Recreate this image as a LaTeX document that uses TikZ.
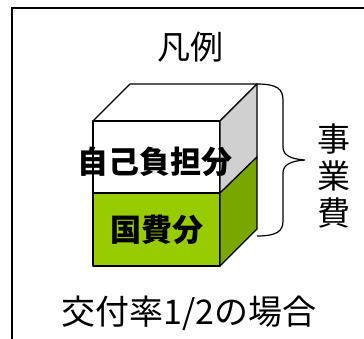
\documentclass[tikz,border=0pt]{standalone}
\usepackage{fontspec}
\newfontfamily\jpfont{Noto Sans CJK JP}
\definecolor{kokuhi}{HTML}{99CC00}
\definecolor{kokuhiside}{HTML}{7AA600}
\definecolor{jikoside}{HTML}{D0D0D0}
\begin{document}
\begin{tikzpicture}[x=1pt,y=-1pt,
    face/.style={draw=black,line width=1.2pt,line join=round},
    plaintext/.style={inner sep=0pt,font=\jpfont\fontsize{33}{37}\selectfont},
    parttext/.style={inner sep=0pt,font=\jpfont\bfseries\fontsize{31}{34}\selectfont}]
    \useasboundingbox (0,0) rectangle (364,338);
    % frame
    \draw[line width=1.8pt] (12,345) -- (12,8) -- (370,8);
    % cube
    \draw[face,fill=white] (93,121) -- (130,84) -- (257,84) -- (220,121) -- cycle;
    \draw[face,fill=white] (93,121) rectangle (220,193);
    \draw[face,fill=kokuhi] (93,193) rectangle (220,266);
    \draw[face,fill=jikoside] (220,121) -- (257,84) -- (257,157) -- (220,193) -- cycle;
    \draw[face,fill=kokuhiside] (220,193) -- (257,157) -- (257,229) -- (220,266) -- cycle;
    % brace
    \draw[line width=1.2pt] (257,84) .. controls (277,84) and (283,89) .. (283,100)
        -- (283,147) .. controls (283,155) and (290,159) .. (305,160)
        .. controls (290,161) and (283,165) .. (283,173)
        -- (283,221) .. controls (283,231) and (277,236) .. (257,236);
    % texts
    \node[plaintext] (title) at (190,47) {凡例};
    \node[parttext] (jiko) at (155,162) {自己負担分};
    \node[parttext] (kokuhibun) at (157,230) {国費分};
    \foreach \ch/\y in {事/139,業/176,費/213}
        \node[plaintext] (jigyohi-\y) at (334,\y) {\ch};
    \node[plaintext,font=\jpfont\fontsize{34}{37}\selectfont] (rate) at (189,313) {交付率1/2の場合};
\end{tikzpicture}
\end{document}
